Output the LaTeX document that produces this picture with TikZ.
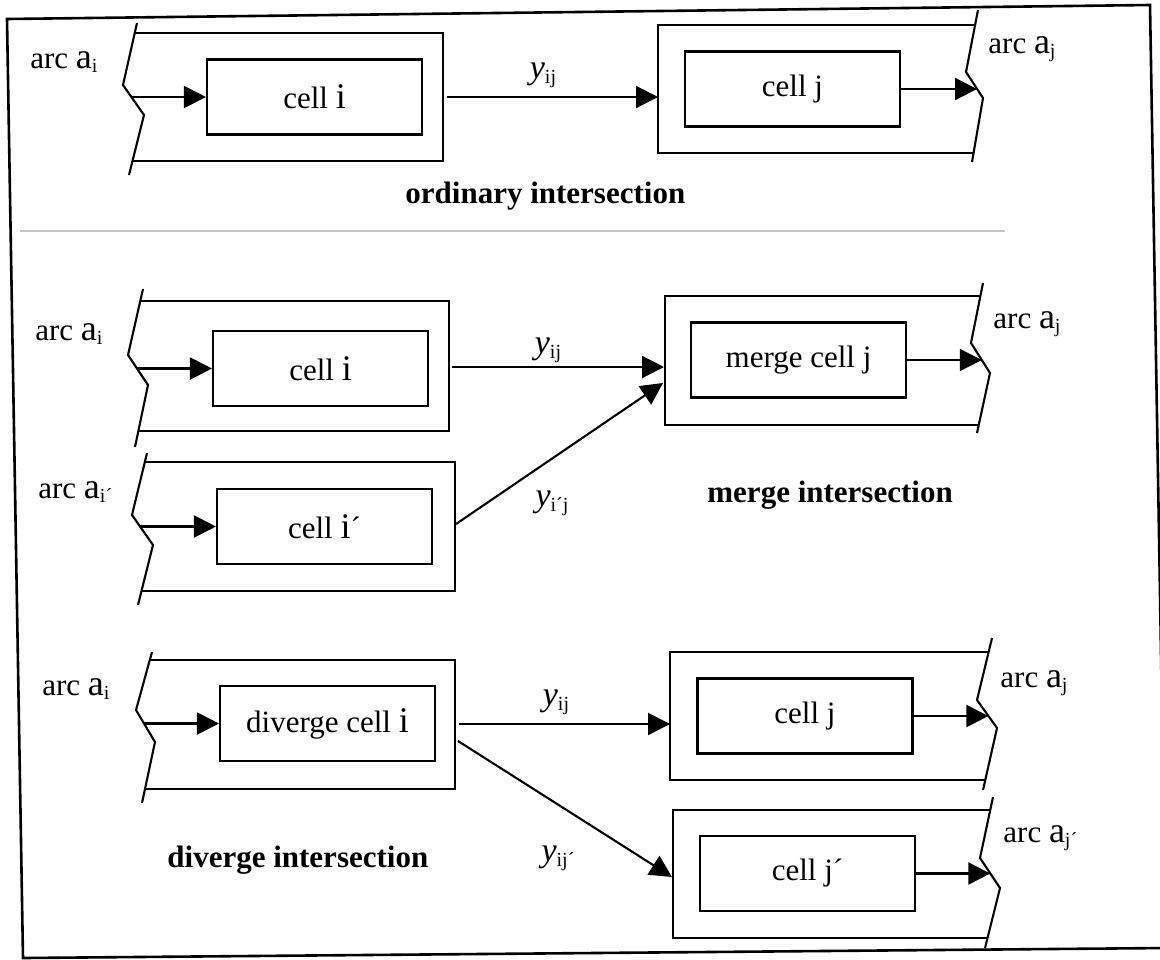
\documentclass[tikz,border=0pt]{standalone}
\usepackage{fontspec}
\setmainfont{Liberation Serif}
\usetikzlibrary{arrows.meta}
\newcommand\bigletter[1]{{\fontsize{18}{18}\selectfont #1}}
\newcommand\subtext[1]{\raisebox{-0.35ex}{\fontsize{10}{10}\selectfont #1}}
\newcommand\flowvar[1]{{\fontsize{17}{17}\selectfont\itshape y}\subtext{#1}}

\begin{document}
\begin{tikzpicture}[x=0.5pt,y=-0.5pt,
  every node/.style={font=\fontsize{15.5}{18}\selectfont, inner sep=0pt},
  cellbox/.style={draw, line width=1.05pt, minimum width=107.5pt, minimum height=37.5pt},
  line/.style={line width=1.05pt, line join=miter},
  arr/.style={line width=1.05pt, -{Triangle[length=11pt,width=11pt]}},
  lbl/.style={anchor=base west},
  flow/.style={anchor=center},
  title/.style={anchor=base west, font=\fontsize{15.5}{18}\selectfont\bfseries},
]
\useasboundingbox (0,0) rectangle (1160,959);

% outer frame and the faint rule between the first two parts
\begin{scope}
  \clip (0,0) rectangle (1160,959);
  \draw[line width=1.3pt] (7,19) -- (1150,5) -- (1166,948) -- (23,958) -- cycle;
\end{scope}
\draw[black!22, line width=1pt] (20,231) -- (1005,231);

% ---------------- ordinary intersection ----------------
\draw[line] (137,23) -- (123,85) -- (144,115) -- (129,175);
\draw[line] (134.7,33) -- (443,33) -- (443,161) -- (132.5,161);
\draw[line] (978,10) -- (966,72) -- (983,98) -- (972,162);
\draw[line] (975,25) -- (658,25) -- (658,153) -- (973.5,153);

\node[cellbox] (ci) at (314.5,97) {cell \bigletter{i}};
\node[cellbox] (cj) at (792.5,89) {cell j};
\coordinate (zi1) at (131.4,97);
\coordinate (zj1) at (977,89);
\coordinate (ciE) at (447,97);
\coordinate (cjW) at (658,97);
\draw[arr] (zi1) -- (ci.west);
\draw[arr] (ciE) -- (cjW);
\draw[arr] (cj.east) -- (zj1);

\node[lbl] (la1) at (30,68) {arc \bigletter{a}\subtext{i}};
\node[lbl] (la2) at (988,53) {arc \bigletter{a}\subtext{j}};
\node[flow] (f1) at (543,75) {\flowvar{ij}};
\node[title] (t1) at (405,203) {ordinary intersection};

% ---------------- merge intersection ----------------
\draw[line] (143,289) -- (128,355) -- (148,385) -- (135,447);
\draw[line] (140,301) -- (449,301) -- (449,431) -- (138.4,431);
\draw[line] (147,453) -- (132,515) -- (153,545) -- (138,605);
\draw[line] (144.8,462) -- (455,462) -- (455,591) -- (141.5,591);
\draw[line] (983,283) -- (971,343) -- (990,373) -- (977,433);
\draw[line] (980.4,296) -- (665,296) -- (665,425) -- (978.7,425);

\node[cellbox] (mi) at (320.5,368.5) {cell \bigletter{i}};
\node[cellbox] (mi2) at (324.5,526.5) {cell \bigletter{i}´};
\node[cellbox] (mj) at (798.5,360) {merge cell j};
\coordinate (zm1) at (137,368.5);
\coordinate (zm2) at (140,526.5);
\coordinate (zm3) at (981.8,360);
\coordinate (miE) at (452,367);
\coordinate (mjW) at (664,367);
\coordinate (mi2E) at (456,524);
\coordinate (mjW2) at (663,383);
\draw[arr] (zm1) -- (mi.west);
\draw[arr] (zm2) -- (mi2.west);
\draw[arr] (miE) -- (mjW);
\draw[arr] (mi2E) -- (mjW2);
\draw[arr] (mj.east) -- (zm3);

\node[lbl] (la3) at (35,340) {arc \bigletter{a}\subtext{i}};
\node[lbl] (la4) at (38,498) {arc \bigletter{a}\subtext{i´}};
\node[lbl] (la5) at (993,328) {arc \bigletter{a}\subtext{j}};
\node[flow] (f2) at (548,350) {\flowvar{ij}};
\node[flow] (f3) at (552,503) {\flowvar{i´j}};
\node[title] (t2) at (707,502) {merge intersection};

% ---------------- diverge intersection ----------------
\draw[line] (152,652) -- (136,710) -- (155,742) -- (142,803);
\draw[line] (149.8,660) -- (455,660) -- (455,789) -- (145,789);
\draw[line] (992,638) -- (977,700) -- (997,728) -- (983,790);
\draw[line] (988.6,652) -- (670,652) -- (670,780) -- (985.3,780);
\draw[line] (993,797) -- (980,858) -- (1000,888) -- (985,948);
\draw[line] (990.2,810) -- (673,810) -- (673,938) -- (987.5,938);

\node[cellbox] (di) at (327.5,723.5) {diverge cell \bigletter{i}};
\node[cellbox] (dj) at (805,716) {cell j};
\node[cellbox] (dj2) at (807.5,873.5) {cell j´};
\coordinate (zd1) at (144,723.5);
\coordinate (zd2) at (988.4,716);
\coordinate (zd3) at (990.3,873.5);
\coordinate (diE) at (459,724);
\coordinate (djW) at (670,724);
\coordinate (diE2) at (458,741);
\coordinate (dj2W) at (672,877);
\draw[arr] (zd1) -- (di.west);
\draw[arr] (diE) -- (djW);
\draw[arr] (diE2) -- (dj2W);
\draw[arr] (dj.east) -- (zd2);
\draw[arr] (dj2.east) -- (zd3);

\node[lbl] (la6) at (42,695) {arc \bigletter{a}\subtext{i}};
\node[lbl] (la7) at (1000,687) {arc \bigletter{a}\subtext{j}};
\node[lbl] (la8) at (1003,842) {arc \bigletter{a}\subtext{j´}};
\node[flow] (f4) at (556,702) {\flowvar{ij}};
\node[flow] (f5) at (558,858) {\flowvar{ij´}};
\node[title] (t3) at (167,867) {diverge intersection};
\end{tikzpicture}
\end{document}
